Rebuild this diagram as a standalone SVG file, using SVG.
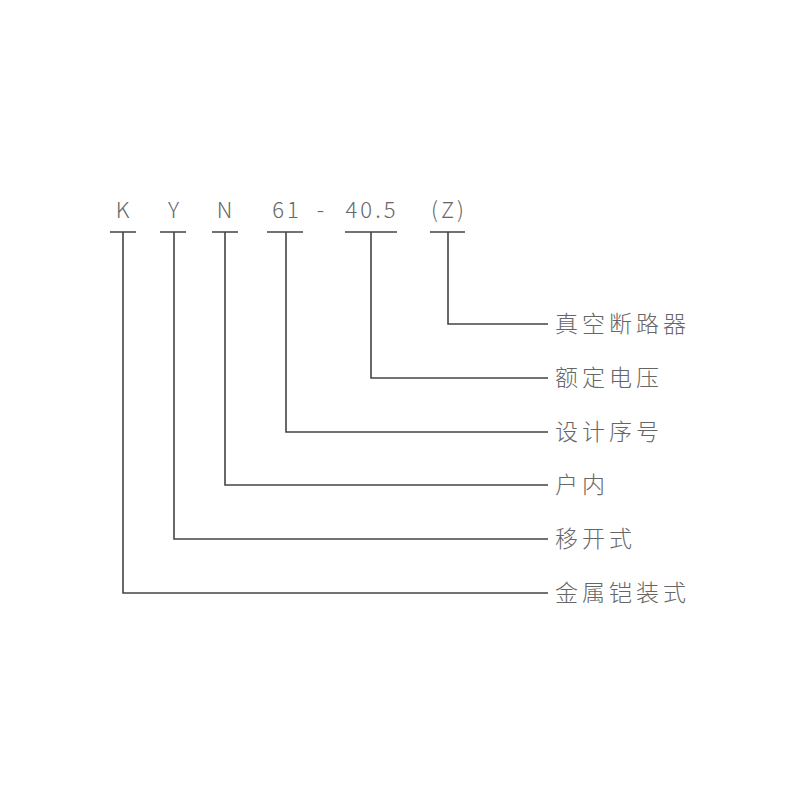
<svg xmlns="http://www.w3.org/2000/svg" width="800" height="800" viewBox="0 0 800 800">
<style>
.code{font-family:"Noto Sans CJK SC","Noto Sans",sans-serif;font-size:22px;font-weight:300;fill:#666;text-anchor:middle;letter-spacing:3px}
.lab{font-family:"Noto Sans CJK SC","Noto Sans",sans-serif;font-size:23px;font-weight:300;fill:#666;letter-spacing:4px}
.ln{fill:none;stroke:#444;stroke-width:1.6}
</style>
<rect width="800" height="800" fill="#fff"/>
<g id="codes">
<text class="code" x="124" y="218">K</text>
<text class="code" x="175" y="218">Y</text>
<text class="code" x="226" y="218">N</text>
<text class="code" x="287" y="218">61</text>
<text class="code" x="322" y="218">-</text>
<text class="code" x="372" y="218">40.5</text>
<text class="code" x="449" y="218">(Z)</text>
</g>
<g id="connectors">
<path class="ln" d="M110 232H136M160 232H186M212 232H238M267 232H303M345 232H397M430 232H465"/>
<path class="ln" d="M448 232V324H548"/>
<path class="ln" d="M371 232V378H548"/>
<path class="ln" d="M286 232V432H548"/>
<path class="ln" d="M225 232V485H548"/>
<path class="ln" d="M174 232V539H548"/>
<path class="ln" d="M123 232V593H548"/>
</g>
<g id="labels">
<text class="lab" x="555" y="332">真空断路器</text>
<text class="lab" x="555" y="386">额定电压</text>
<text class="lab" x="555" y="440">设计序号</text>
<text class="lab" x="555" y="493">户内</text>
<text class="lab" x="555" y="547">移开式</text>
<text class="lab" x="555" y="601">金属铠装式</text>
</g>
</svg>
